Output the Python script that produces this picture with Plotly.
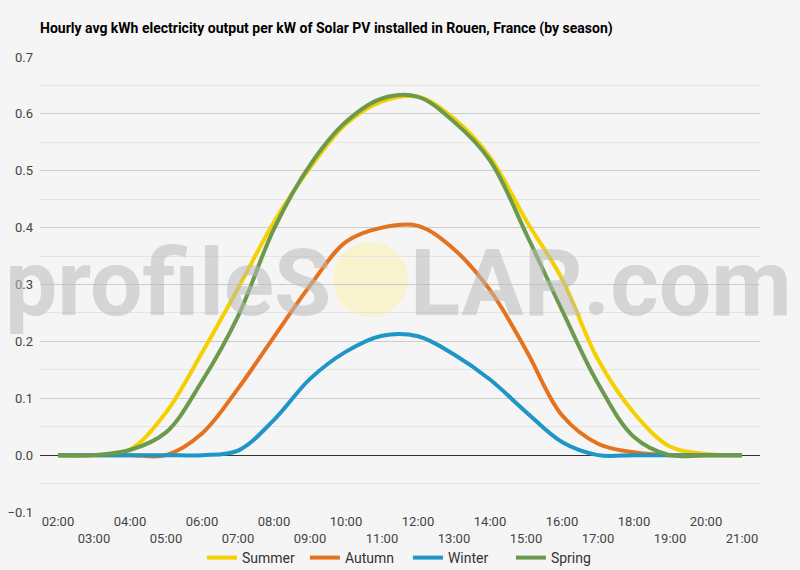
import plotly.graph_objects as go

# --- Data ---
HOURS = ["02:00", "03:00", "04:00", "05:00", "06:00", "07:00", "08:00", "09:00",
         "10:00", "11:00", "12:00", "13:00", "14:00", "15:00", "16:00", "17:00",
         "18:00", "19:00", "20:00", "21:00"]

summer = [0, 0, 0.01, 0.075, 0.18, 0.293, 0.41, 0.505, 0.582, 0.622,
          0.63, 0.592, 0.524, 0.413, 0.31, 0.168, 0.074, 0.015, 0.002, 0]
autumn = [0, 0, 0, 0, 0.038, 0.117, 0.208, 0.298, 0.375, 0.40,
          0.403, 0.362, 0.29, 0.185, 0.07, 0.02, 0.005, 0, 0, 0]
winter = [0, 0, 0, 0, 0, 0.008, 0.062, 0.134, 0.182, 0.21,
          0.209, 0.177, 0.133, 0.076, 0.023, 0, 0, 0, 0, 0]
spring = [0, 0, 0.009, 0.04, 0.13, 0.244, 0.398, 0.51, 0.586, 0.627,
          0.63, 0.586, 0.518, 0.39, 0.255, 0.126, 0.032, 0, 0, 0]

SERIES = [
    ("Summer", summer, "#f5d000"),
    ("Autumn", autumn, "#e4731f"),
    ("Winter", winter, "#1e96c8"),
    ("Spring", spring, "#6b9a4c"),
]

TITLE = "Hourly avg kWh electricity output per kW of Solar PV installed in Rouen, France (by season)"
BG = "#f5f5f5"
FONT = "Roboto"

# staggered x labels: every other one drops to a second row
tick_text = [h if i % 2 == 0 else "<br>" + h for i, h in enumerate(HOURS)]

# --- Figure ---
fig = go.Figure()

for name, vals, color in SERIES:
    fig.add_trace(go.Scatter(
        x=HOURS, y=vals, name=name, mode="lines",
        line=dict(color=color, width=4, shape="spline", smoothing=1),
    ))

# watermark: "profileS" + sun + "LAR.com"
wm_font = dict(family="Roboto", size=93, color="rgba(185,185,185,0.55)", weight=700)
fig.add_annotation(text="profileS", xref="paper", yref="paper", x=0.407, y=0.502,
                   xanchor="right", yanchor="middle", showarrow=False, font=wm_font)
fig.add_annotation(text="LAR.com", xref="paper", yref="paper", x=0.511, y=0.502,
                   xanchor="left", yanchor="middle", showarrow=False, font=wm_font)
fig.add_shape(type="circle", xref="paper", yref="paper",
              x0=0.407, x1=0.511, y0=0.4286, y1=0.5934,
              fillcolor="rgba(250,243,195,0.8)", line=dict(width=0), layer="between")

fig.update_xaxes(
    type="category", range=[-0.5, len(HOURS) - 0.5],
    tickvals=HOURS, ticktext=tick_text,
    showgrid=False, showline=False, ticks="", automargin=False,
    tickfont=dict(family=FONT, size=13, color="#444444"),
)
fig.update_yaxes(
    range=[-0.1, 0.7], dtick=0.1, tickformat=".1f",
    showgrid=True, gridcolor="#cccccc", gridwidth=1,
    minor=dict(dtick=0.05, showgrid=True, gridcolor="#e4e4e4"),
    zeroline=True, zerolinecolor="#333333", zerolinewidth=1,
    ticks="", ticklabelstandoff=6, automargin=False,
    tickfont=dict(family=FONT, size=13, color="#444444"),
)

fig.update_layout(
    width=800, height=570,
    paper_bgcolor=BG, plot_bgcolor=BG,
    margin=dict(l=40, r=40, t=57, b=58),
    title=dict(text="<b>" + TITLE + "</b>", x=0.05, xanchor="left",
               y=1 - 28 / 570, yanchor="middle",
               font=dict(family=FONT, size=14, color="#000000")),
    font=dict(family=FONT),
    showlegend=True,
    legend=dict(orientation="h", x=0.511, xanchor="center",
                yref="container", y=1 - 558 / 570, yanchor="middle",
                font=dict(family=FONT, size=14, color="#333333"),
                itemwidth=30, entrywidth=58, bgcolor="rgba(0,0,0,0)"),
    hovermode=False,
)

fig.write_html("out.html", config={"displayModeBar": False},
               post_script="document.body.style.margin = '0';")
